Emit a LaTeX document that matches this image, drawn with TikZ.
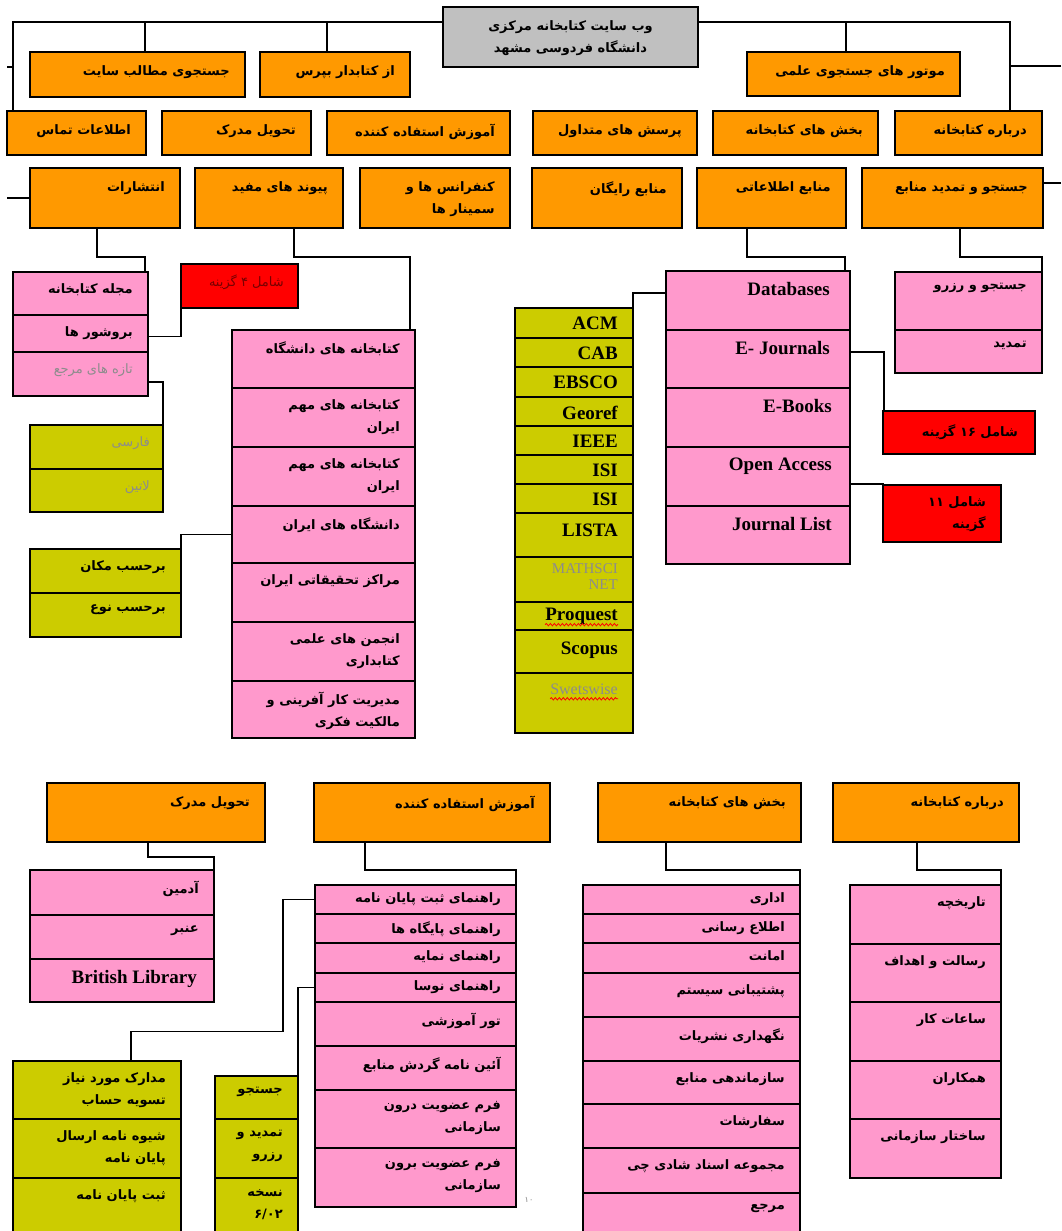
\documentclass[tikz,border=0pt]{standalone}
\usepackage{fontspec}
\newfontfamily\fafont[Script=Arabic]{DejaVu Sans}
\newfontfamily\enfont{Liberation Serif}
\TeXXeTstate=1
\usetikzlibrary{decorations.pathmorphing}
\definecolor{orng}{RGB}{255,153,0}
\definecolor{pnk}{RGB}{255,153,204}
\definecolor{olv}{RGB}{204,204,0}
\definecolor{rd}{RGB}{255,0,0}
\definecolor{gry}{RGB}{192,192,192}
\definecolor{dred}{RGB}{120,0,0}
\newcommand\fa[1]{\beginR#1\endR}
\newcommand\bx[6]{\node[box,fill=#6,minimum width={(#4)-(#2)},minimum height={(#5)-(#3)}] (#1) at (#2,#3) {};}
\newcommand\tx[3][]{\node[lbl,#1] (#2-t) at ([xshift=-15pt,yshift=-11pt]#2.north east) {#3};}
\tikzset{
  box/.style={draw=black,line width=1.6pt,inner sep=0pt,outer sep=0pt,anchor=north west},
  lbl/.style={anchor=north east,inner sep=0pt,align=right,font=\fafont\bfseries\fontsize{13}{22}\selectfont},
  thin/.style={font=\fafont\fontsize{13}{22}\selectfont},
  en/.style={font=\enfont\bfseries\fontsize{19}{20}\selectfont},
  org/.style={yshift=-2pt},
  dim/.style={text=black!45},
  conn/.style={line width=1.6pt},
  wavy/.style={draw=red,line width=0.8pt,decorate,decoration={snake,amplitude=1.2pt,segment length=4pt}},
}
\begin{document}
\begin{tikzpicture}[x=1pt,y=-1pt]
\useasboundingbox (0,0) rectangle (1061,1231);
\clip (0,0) rectangle (1061,1231);
% ---------- top ----------
\bx{top}{443}{7}{698}{67}{gry}
\node[lbl,anchor=north,align=center] (top-t) at ([yshift=-13pt]top.north) {\fa{وب سایت کتابخانه مرکزی}\\\fa{دانشگاه فردوسی مشهد}};
% row 1
\bx{r1a}{30}{52}{245}{97}{orng} \tx[org]{r1a}{\fa{جستجوی مطالب سایت}}
\bx{r1b}{260}{52}{410}{97}{orng} \tx[org]{r1b}{\fa{از کتابدار بپرس}}
\bx{r1c}{747}{52}{960}{96}{orng} \tx[org]{r1c}{\fa{موتور های جستجوی علمی}}
% row 2
\bx{r2a}{7}{111}{146}{155}{orng} \tx[org]{r2a}{\fa{اطلاعات تماس}}
\bx{r2b}{162}{111}{311}{155}{orng} \tx[org]{r2b}{\fa{تحویل مدرک}}
\bx{r2c}{327}{111}{510}{155}{orng} \tx[org]{r2c}{\fa{آموزش استفاده کننده}}
\bx{r2d}{533}{111}{697}{155}{orng} \tx[org]{r2d}{\fa{پرسش های متداول}}
\bx{r2e}{713}{111}{878}{155}{orng} \tx[org]{r2e}{\fa{بخش های کتابخانه}}
\bx{r2f}{895}{111}{1042}{155}{orng} \tx[org]{r2f}{\fa{درباره کتابخانه}}
% row 3
\bx{r3a}{30}{168}{180}{228}{orng} \tx[org]{r3a}{\fa{انتشارات}}
\bx{r3b}{195}{168}{343}{228}{orng} \tx[org]{r3b}{\fa{پیوند های مفید}}
\bx{r3c}{360}{168}{510}{228}{orng} \tx[org]{r3c}{\fa{کنفرانس ها و}\\\fa{سمینار ها}}
\bx{r3d}{532}{168}{682}{228}{orng} \tx[org]{r3d}{\fa{منابع رایگان}}
\bx{r3e}{697}{168}{846}{228}{orng} \tx[org]{r3e}{\fa{منابع اطلاعاتی}}
\bx{r3f}{862}{168}{1043}{228}{orng} \tx[org]{r3f}{\fa{جستجو و تمدید منابع}}
% top connectors
\coordinate (busL) at ([yshift=-15pt]top.north west);
\coordinate (busR) at ([yshift=-15pt]top.north east);
\coordinate (dL0) at ([xshift=6pt]r2a.north west);
\coordinate (dL1) at ([xshift=115pt]r1a.north west);
\coordinate (dL2) at ([xshift=67pt]r1b.north west);
\coordinate (dR0) at ([xshift=115pt]r2f.north west);
\coordinate (dR1) at ([xshift=99pt]r1c.north west);
\coordinate (stubL1) at (7,67);
\coordinate (stubL2) at (7,198);
\coordinate (stubR1) at (1061,66);
\coordinate (stubR2) at (1061,183);
\draw[conn] (busL) -| (dL0);
\draw[conn] (dL1) -- (dL1 |- busL);
\draw[conn] (dL2) -- (dL2 |- busL);
\draw[conn] (stubL1) -- (stubL1 -| dL0);
\draw[conn] (stubL2) -- (r3a.west);
\draw[conn] (busR) -| (dR0);
\draw[conn] (dR1) -- (dR1 |- busR);
\draw[conn] (stubR1) -- (stubR1 -| dR0);
\draw[conn] (stubR2) -- (stubR2 -| r3f.east);
% ---------- publications ----------
\bx{s1a}{13}{272}{148}{315}{pnk} \tx{s1a}{\fa{مجله کتابخانه}}
\bx{s1b}{13}{315}{148}{352}{pnk} \tx{s1b}{\fa{بروشور ها}}
\bx{s1c}{13}{352}{148}{396}{pnk} \tx[thin,dim]{s1c}{\fa{تازه های مرجع}}
\bx{red1}{181}{264}{298}{308}{rd} \tx[thin,text=dred,xshift=1pt]{red1}{\fa{شامل ۴ گزینه}}
\bx{o1a}{30}{425}{163}{469}{olv} \tx[thin,dim,xshift=2pt]{o1a}{\fa{فارسی}}
\bx{o1b}{30}{469}{163}{512}{olv} \tx[thin,dim,xshift=2pt]{o1b}{\fa{لاتین}}
\coordinate (c1) at ([xshift=67pt]r3a.south west);
\draw[conn] (c1) -- ++(0,29) -| ([xshift=-3pt]s1a.north east);
\draw[conn] ([yshift=-3pt]s1b.east) -| (red1.south west);
\draw[conn] ([yshift=-8pt]s1c.east) -| (o1a.north east);
% ---------- useful links ----------
\bx{s2a}{232}{330}{415}{388}{pnk} \tx{s2a}{\fa{کتابخانه های دانشگاه}}
\bx{s2b}{232}{388}{415}{447}{pnk} \tx{s2b}{\fa{کتابخانه های مهم}\\\fa{ایران}}
\bx{s2c}{232}{447}{415}{506}{pnk} \tx{s2c}{\fa{کتابخانه های مهم}\\\fa{ایران}}
\bx{s2d}{232}{506}{415}{563}{pnk} \tx{s2d}{\fa{دانشگاه های ایران}}
\bx{s2e}{232}{563}{415}{622}{pnk} \tx{s2e}{\fa{مراکز تحقیقاتی ایران}}
\bx{s2f}{232}{622}{415}{681}{pnk} \tx{s2f}{\fa{انجمن های علمی}\\\fa{کتابداری}}
\bx{s2g}{232}{681}{415}{738}{pnk} \tx{s2g}{\fa{مدیریت کار آفرینی و}\\\fa{مالکیت فکری}}
\bx{o2a}{30}{549}{181}{593}{olv} \tx{o2a}{\fa{برحسب مکان}}
\bx{o2b}{30}{593}{181}{637}{olv} \tx{o2b}{\fa{برحسب نوع}}
\coordinate (c2) at ([xshift=99pt]r3b.south west);
\draw[conn] (c2) -- ++(0,29) -| ([xshift=-5pt]s2a.north east);
\draw[conn] (s2d.west) -| (o2a.north east);
% ---------- information resources ----------
\bx{s3a}{666}{271}{850}{330}{pnk} \tx[en,xshift=-5pt]{s3a}{Databases}
\bx{s3b}{666}{330}{850}{388}{pnk} \tx[en,xshift=-5pt]{s3b}{E- Journals}
\bx{s3c}{666}{388}{850}{447}{pnk} \tx[en,xshift=-3pt]{s3c}{E-Books}
\bx{s3d}{666}{447}{850}{506}{pnk} \tx[en,xshift=-3pt]{s3d}{Open Access}
\bx{s3e}{666}{506}{850}{564}{pnk} \tx[en,xshift=-3pt]{s3e}{Journal List}
\bx{o3a}{515}{308}{633}{338}{olv} \tx[en,yshift=2pt]{o3a}{ACM}
\bx{o3b}{515}{338}{633}{367}{olv} \tx[en,yshift=2pt]{o3b}{CAB}
\bx{o3c}{515}{367}{633}{397}{olv} \tx[en,yshift=2pt]{o3c}{EBSCO}
\bx{o3d}{515}{397}{633}{426}{olv} \tx[en,yshift=2pt]{o3d}{Georef}
\bx{o3e}{515}{426}{633}{455}{olv} \tx[en,yshift=2pt]{o3e}{IEEE}
\bx{o3f}{515}{455}{633}{484}{olv} \tx[en,yshift=2pt]{o3f}{ISI}
\bx{o3g}{515}{484}{633}{513}{olv} \tx[en,yshift=2pt]{o3g}{ISI}
\bx{o3h}{515}{513}{633}{557}{olv} \tx[en]{o3h}{LISTA}
\bx{o3i}{515}{557}{633}{602}{olv} \tx[font=\enfont\fontsize{15}{16}\selectfont,dim,yshift=5pt]{o3i}{MATHSCI\\NET}
\bx{o3j}{515}{602}{633}{630}{olv} \tx[en,yshift=5pt]{o3j}{Proquest}
\bx{o3k}{515}{630}{633}{673}{olv} \tx[en,yshift=-1pt]{o3k}{Scopus}
\bx{o3l}{515}{673}{633}{733}{olv} \tx[font=\enfont\fontsize{16}{17}\selectfont,dim]{o3l}{Swetswise}
\draw[wavy] ([yshift=-4pt]o3j-t.base west) -- ([yshift=-4pt]o3j-t.base east);
\draw[wavy] ([yshift=-4pt]o3l-t.base west) -- ([yshift=-4pt]o3l-t.base east);
\coordinate (c3) at ([xshift=50pt]r3e.south west);
\draw[conn] (c3) -- ++(0,29) -| ([xshift=-5pt]s3a.north east);
\draw[conn] ([yshift=7.5pt]s3a.west) -| (o3a.north east);
\bx{red2}{883}{411}{1035}{454}{rd} \tx[xshift=-2pt,yshift=-2pt]{red2}{\fa{شامل \beginL۱۶\endL{} گزینه}}
\bx{red3}{883}{485}{1001}{542}{rd} \tx{red3}{\fa{شامل ۱۱}\\\fa{گزینه}}
\draw[conn] ([yshift=7pt]s3b.east) -| ([xshift=1pt]red2.north west);
\draw[conn] ([yshift=-7.5pt]s3d.east) -| (red3.north west);
% ---------- search & renew ----------
\bx{s4a}{895}{272}{1042}{330}{pnk} \tx{s4a}{\fa{جستجو و رزرو}}
\bx{s4b}{895}{330}{1042}{373}{pnk} \tx{s4b}{\fa{تمدید}}
\coordinate (c4) at ([xshift=98pt]r3f.south west);
\draw[conn] (c4) -- ++(0,29) -| (s4a.north east);
% ================= bottom part =================
\bx{b1}{47}{783}{265}{842}{orng} \tx[org]{b1}{\fa{تحویل مدرک}}
\bx{b2}{314}{783}{550}{842}{orng} \tx[org]{b2}{\fa{آموزش استفاده کننده}}
\bx{b3}{598}{783}{801}{842}{orng} \tx[org]{b3}{\fa{بخش های کتابخانه}}
\bx{b4}{833}{783}{1019}{842}{orng} \tx[org]{b4}{\fa{درباره کتابخانه}}
% document delivery
\bx{t1a}{30}{870}{214}{915}{pnk} \tx{t1a}{\fa{آدمین}}
\bx{t1b}{30}{915}{214}{959}{pnk} \tx{t1b}{\fa{عنبر}}
\bx{t1c}{30}{959}{214}{1002}{pnk} \tx[en,xshift=-2pt]{t1c}{British Library}
\coordinate (c5) at ([xshift=101pt]b1.south west);
\draw[conn] (c5) -- ++(0,15) -| (t1a.north east);
% user education
\bx{t2a}{315}{885}{516}{914}{pnk} \tx[yshift=4pt]{t2a}{\fa{راهنمای ثبت پایان نامه}}
\bx{t2b}{315}{914}{516}{943}{pnk} \tx[yshift=4pt]{t2b}{\fa{راهنمای پایگاه ها}}
\bx{t2c}{315}{943}{516}{973}{pnk} \tx[yshift=4pt]{t2c}{\fa{راهنمای نمایه}}
\bx{t2d}{315}{973}{516}{1002}{pnk} \tx[yshift=4pt]{t2d}{\fa{راهنمای نوسا}}
\bx{t2e}{315}{1002}{516}{1046}{pnk} \tx{t2e}{\fa{تور آموزشی}}
\bx{t2f}{315}{1046}{516}{1090}{pnk} \tx{t2f}{\fa{آئین نامه گردش منابع}}
\bx{t2g}{315}{1090}{516}{1148}{pnk} \tx{t2g}{\fa{فرم عضویت درون}\\\fa{سازمانی}}
\bx{t2h}{315}{1148}{516}{1207}{pnk} \tx{t2h}{\fa{فرم عضویت برون}\\\fa{سازمانی}}
\node[font=\fafont\fontsize{8}{8}\selectfont,text=black!50,inner sep=0pt] (pg) at (529,1200) {۱۰};
\coordinate (c6) at ([xshift=51pt]b2.south west);
\draw[conn] (c6) -- ++(0,28) -| (t2a.north east);
\bx{u1a}{13}{1061}{181}{1119}{olv} \tx{u1a}{\fa{مدارک مورد نیاز}\\\fa{تسویه حساب}}
\bx{u1b}{13}{1119}{181}{1178}{olv} \tx{u1b}{\fa{شیوه نامه ارسال}\\\fa{پایان نامه}}
\bx{u1c}{13}{1178}{181}{1240}{olv} \tx{u1c}{\fa{ثبت پایان نامه}}
\bx{u2a}{215}{1076}{298}{1119}{olv} \tx{u2a}{\fa{جستجو}}
\bx{u2b}{215}{1119}{298}{1178}{olv} \tx{u2b}{\fa{تمدید و}\\\fa{رزرو}}
\bx{u2c}{215}{1178}{298}{1240}{olv} \tx{u2c}{\fa{نسخه}\\۶/۰۲}
\draw[conn] (t2a.west) -- ++(-32,0) -- ++(0,132) -| ([xshift=118pt]u1a.north west);
\draw[conn] (t2d.west) -| (u2a.north east);
% library sections
\bx{t3a}{583}{885}{800}{914}{pnk} \tx[yshift=4pt]{t3a}{\fa{اداری}}
\bx{t3b}{583}{914}{800}{943}{pnk} \tx[yshift=4pt]{t3b}{\fa{اطلاع رسانی}}
\bx{t3c}{583}{943}{800}{973}{pnk} \tx[yshift=4pt]{t3c}{\fa{امانت}}
\bx{t3d}{583}{973}{800}{1017}{pnk} \tx{t3d}{\fa{پشتیبانی سیستم}}
\bx{t3e}{583}{1017}{800}{1061}{pnk} \tx{t3e}{\fa{نگهداری نشریات}}
\bx{t3f}{583}{1061}{800}{1104}{pnk} \tx{t3f}{\fa{سازماندهی منابع}}
\bx{t3g}{583}{1104}{800}{1148}{pnk} \tx{t3g}{\fa{سفارشات}}
\bx{t3h}{583}{1148}{800}{1193}{pnk} \tx{t3h}{\fa{مجموعه اسناد شادی چی}}
\bx{t3i}{583}{1193}{800}{1240}{pnk} \tx{t3i}{\fa{مرجع}}
\coordinate (c7) at ([xshift=68pt]b3.south west);
\draw[conn] (c7) -- ++(0,28) -| (t3a.north east);
% about the library
\bx{t4a}{850}{885}{1001}{944}{pnk} \tx{t4a}{\fa{تاریخچه}}
\bx{t4b}{850}{944}{1001}{1002}{pnk} \tx{t4b}{\fa{رسالت و اهداف}}
\bx{t4c}{850}{1002}{1001}{1061}{pnk} \tx{t4c}{\fa{ساعات کار}}
\bx{t4d}{850}{1061}{1001}{1119}{pnk} \tx{t4d}{\fa{همکاران}}
\bx{t4e}{850}{1119}{1001}{1178}{pnk} \tx{t4e}{\fa{ساختار سازمانی}}
\coordinate (c8) at ([xshift=84pt]b4.south west);
\draw[conn] (c8) -- ++(0,28) -| (t4a.north east);
\end{tikzpicture}
\end{document}
